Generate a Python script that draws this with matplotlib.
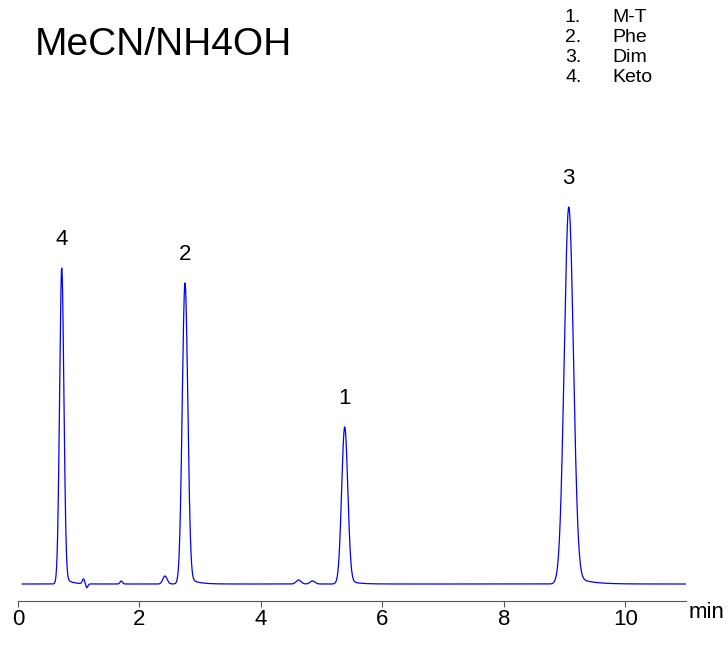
import numpy as np
import matplotlib
matplotlib.use("Agg")
import matplotlib.pyplot as plt

plt.rcParams['font.family'] = ['Liberation Sans', 'DejaVu Sans']

peak_labels = ["4", "2", "1", "3"]
peak_times = [0.72, 2.75, 5.38, 9.07]
peak_heights = [316, 301, 157, 377]
peak_widths = [0.035, 0.045, 0.05, 0.075]
minor_times = [1.08, 1.13, 1.70, 2.42, 4.62, 4.85]
minor_heights = [5, -4, 3, 8, 4, 3]
minor_widths = [0.02, 0.02, 0.02, 0.035, 0.04, 0.04]
legend_nums = ["1.", "2.", "3.", "4."]
legend_names = ["M-T", "Phe", "Dim", "Keto"]
xticks = [0, 2, 4, 6, 8, 10]

t = np.linspace(0.07, 11.0, 4000)
y = np.zeros_like(t)
for c, h, w in zip(peak_times + minor_times, peak_heights + minor_heights, peak_widths + minor_widths):
    g = np.exp(-0.5 * ((t - c) / w) ** 2)
    tail = np.where(t > c, np.exp(-(t - c) / (w * 3)) * 0.03 * (1 - np.exp(-((t - c) / w) ** 2)), 0)
    y += h * (g + tail)

fig = plt.figure(figsize=(7.28, 6.6), dpi=100)
ax = fig.add_axes([18/728, 59/660, 668/728, 451/660])
ax.plot(t, y, color='#0000ff', lw=0.9)
ax.set_xlim(0, 11)
ax.set_ylim(-17, 434)
for s in ['top', 'right', 'left']:
    ax.spines[s].set_visible(False)
ax.spines['bottom'].set_color('#555555')
ax.set_yticks([])
ax.set_xticks(xticks)
ax.set_xticklabels([str(v) for v in xticks], fontsize=16)
ax.tick_params(axis='x', length=4, color='#555555', pad=2)
for lab, c, h in zip(peak_labels, peak_times, peak_heights):
    ax.text(c, h + 18, lab, ha='center', va='bottom', fontsize=16)
fig.text(724/728, 1 - 612/660, "min", fontsize=16, ha='right', va='center')
fig.text(35/728, 1 - 45/660, "MeCN/NH4OH", fontsize=28, ha='left', va='center')
for i, (n, nm) in enumerate(zip(legend_nums, legend_names)):
    yy = 1 - (17 + 20 * i) / 660
    fig.text(565/728, yy, n, fontsize=14, va='center')
    fig.text(612/728, yy, nm, fontsize=14, va='center')
fig.savefig("out.png", dpi=100)
